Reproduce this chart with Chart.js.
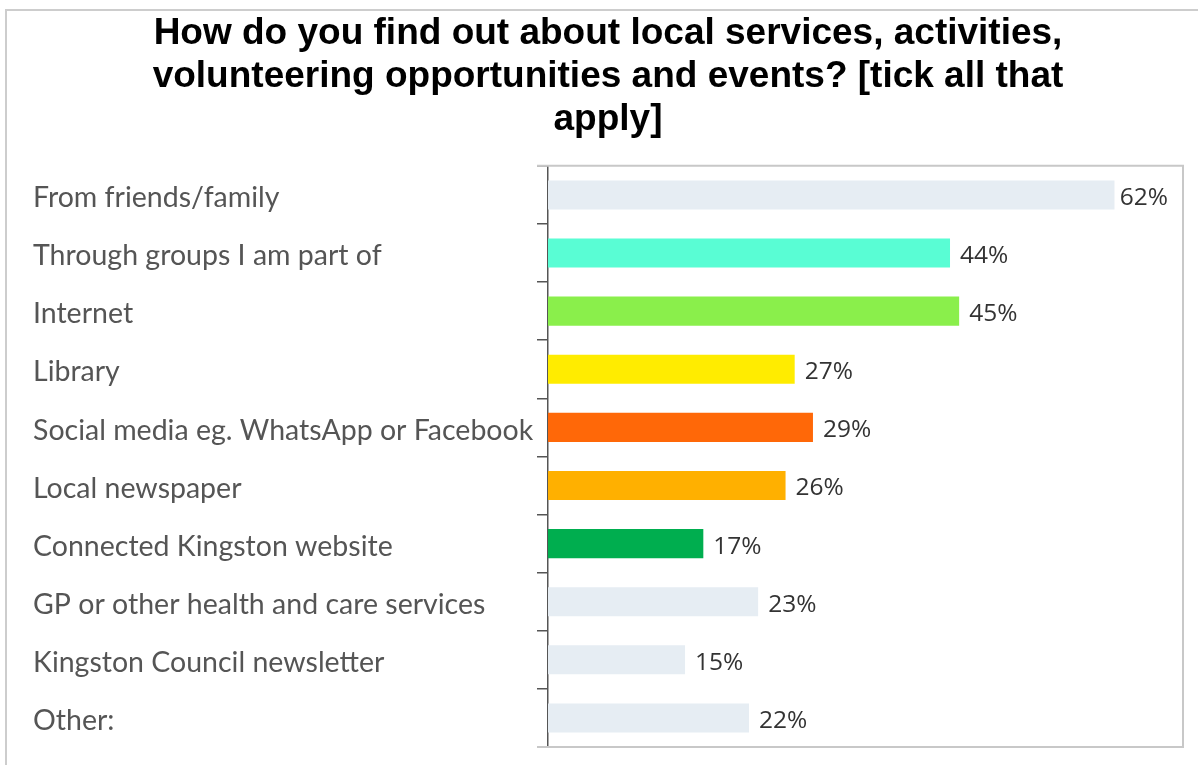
<!DOCTYPE html>
<html>
<head>
<meta charset="utf-8">
<script src="https://cdn.jsdelivr.net/npm/chart.js@4.4.1/dist/chart.umd.min.js"></script>
<style>
  html, body { margin: 0; padding: 0; background: #fff; overflow: hidden; }
  #frame {
    position: absolute; left: 5px; top: 9px;
    width: 1191px; height: 754px;
    border-left: 2px solid #cdcdcd; border-top: 2px solid #cdcdcd;
  }
  #chart { display: block; }
</style>
</head>
<body>
<div id="frame"><canvas id="chart" width="1191" height="754"></canvas></div>
<script>
const titleLines = [
  "How do you find out about local services, activities,",
  "volunteering opportunities and events? [tick all that",
  "apply]"
];

const categories = [
  "From friends/family",
  "Through groups I am part of",
  "Internet",
  "Library",
  "Social media eg. WhatsApp or Facebook",
  "Local newspaper",
  "Connected Kingston website",
  "GP or other health and care services",
  "Kingston Council newsletter",
  "Other:"
];

const values = [62, 44, 45, 27, 29, 26, 17, 23, 15, 22];

const barColors = [
  "#e6edf3", "#59fdd4", "#8aef4b", "#ffec00", "#ff6808",
  "#ffb000", "#00ae4f", "#e6edf3", "#e6edf3", "#e6edf3"
];

// light frame on top, right and bottom of the plot area
const boxPlugin = {
  id: "box",
  afterDraw(chart) {
    const { ctx, chartArea: a } = chart;
    ctx.save();
    ctx.strokeStyle = "#c8c8c8";
    ctx.lineWidth = 2;
    ctx.beginPath();
    ctx.moveTo(a.left - 11, a.top);
    ctx.lineTo(a.right, a.top);
    ctx.lineTo(a.right, a.bottom);
    ctx.lineTo(a.left - 11, a.bottom);
    ctx.stroke();
    ctx.restore();
  }
};

// percentage text at the end of each bar
const valueLabels = {
  id: "valueLabels",
  afterDatasetsDraw(chart) {
    const { ctx, chartArea: a } = chart;
    const meta = chart.getDatasetMeta(0);
    ctx.save();
    ctx.font = "24.5px 'Open Sans'";
    ctx.fillStyle = "#333";
    ctx.textBaseline = "middle";
    meta.data.forEach((bar, i) => {
      const txt = values[i] + "%";
      const w = ctx.measureText(txt).width;
      let x = bar.x + 10;
      if (x + w > a.right - 15) x = a.right - 15 - w;
      ctx.fillText(txt, x, bar.y + 3);
    });
    ctx.restore();
  }
};

const ctx = document.getElementById("chart").getContext("2d");
new Chart(ctx, {
  type: "bar",
  data: {
    labels: categories,
    datasets: [{
      data: values,
      backgroundColor: barColors,
      barPercentage: 0.5,
      categoryPercentage: 1
    }]
  },
  options: {
    indexAxis: "y",
    responsive: false,
    animation: false,
    layout: { padding: { top: 0, left: 26, right: 15, bottom: 18 } },
    plugins: {
      legend: { display: false },
      tooltip: { enabled: false },
      title: {
        display: true,
        text: titleLines,
        color: "#000",
        font: { family: "'Liberation Sans', Arial", size: 37, weight: "bold", lineHeight: 1.17 },
        padding: { top: 1, bottom: 24 }
      }
    },
    scales: {
      x: { display: false, min: 0, max: 69.5 },
      y: {
        afterFit(scale) {
          scale.width = 515;
          scale.paddingTop = 0;
          scale.paddingBottom = 0;
        },
        border: { display: true, color: "#555", width: 1.5 },
        grid: { offset: true, drawOnChartArea: false, color: "#555", lineWidth: 1.5, tickLength: 11 },
        ticks: {
          crossAlign: "far",
          color: "#555",
          padding: 4,
          labelOffset: 3,
          font: { family: "Lato", size: 28.5 }
        }
      }
    }
  },
  plugins: [boxPlugin, valueLabels]
});
</script>
</body>
</html>
